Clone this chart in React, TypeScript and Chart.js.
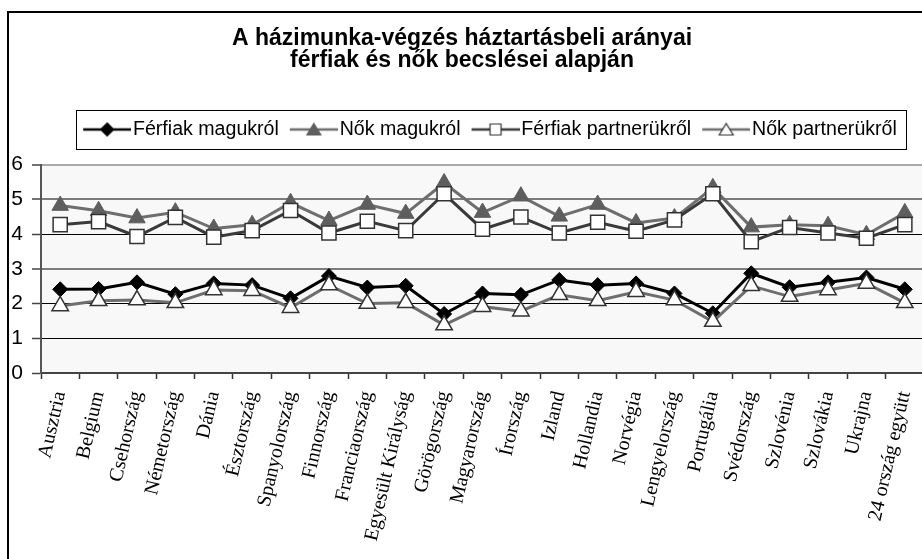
import React, { useEffect, useRef } from 'react';
import { Chart, registerables } from 'chart.js';

Chart.register(...registerables);

const titleLines = ['A házimunka-végzés háztartásbeli arányai', 'férfiak és nők becslései alapján'];

const categories = [
  'Ausztria', 'Belgium', 'Csehország', 'Németország', 'Dánia', 'Észtország', 'Spanyolország',
  'Finnország', 'Franciaország', 'Egyesült Királyság', 'Görögország', 'Magyarország', 'Írország',
  'Izland', 'Hollandia', 'Norvégia', 'Lengyelország', 'Portugália', 'Svédország', 'Szlovénia',
  'Szlovákia', 'Ukrajna', '24 ország együtt',
];

const seriesNames = ['Férfiak magukról', 'Nők magukról', 'Férfiak partnerükről', 'Nők partnerükről'];

const ferfiakMagukrol = [2.41, 2.42, 2.61, 2.27, 2.58, 2.53, 2.15, 2.79, 2.46, 2.51, 1.70, 2.29, 2.25, 2.68, 2.53, 2.58, 2.29, 1.72, 2.87, 2.47, 2.61, 2.75, 2.41];
const nokMagukrol = [4.82, 4.67, 4.46, 4.63, 4.16, 4.27, 4.90, 4.39, 4.85, 4.59, 5.47, 4.62, 5.09, 4.51, 4.85, 4.32, 4.46, 5.33, 4.20, 4.27, 4.24, 3.98, 4.61];
const ferfiakPartnerukrol = [4.27, 4.36, 3.93, 4.48, 3.91, 4.10, 4.68, 4.03, 4.37, 4.10, 5.16, 4.14, 4.49, 4.03, 4.34, 4.08, 4.41, 5.16, 3.78, 4.19, 4.03, 3.88, 4.27];
const nokPartnerukrol = [1.93, 2.08, 2.10, 2.02, 2.39, 2.37, 1.88, 2.53, 2.00, 2.02, 1.38, 1.91, 1.78, 2.25, 2.08, 2.34, 2.10, 1.48, 2.51, 2.20, 2.39, 2.58, 2.02];

const yMin = 0;
const yMax = 6;
const yStep = 1;

const W = 938;
const H = 580;
const SANS = '"Liberation Sans", Arial, sans-serif';
const SERIF = '"Liberation Serif", "Times New Roman", serif';

const gridColors: Record<number, string> = { 6: '#a8a8a8', 5: '#7c7c7c', 4: '#000000', 3: '#7c7c7c', 2: '#000000', 1: '#000000', 0: '#444444' };
const gridWidths: Record<number, number> = { 6: 2, 5: 2, 4: 1, 3: 2, 2: 1, 1: 1, 0: 1 };

function makeIcon(lineColor: string, kind: string, fill: string, stroke: string) {
  const c = document.createElement('canvas');
  c.width = 56;
  c.height = 20;
  const g = c.getContext('2d')!;
  g.strokeStyle = lineColor;
  g.lineWidth = 2.5;
  g.beginPath();
  g.moveTo(8, 10);
  g.lineTo(56, 10);
  g.stroke();
  g.fillStyle = fill;
  g.strokeStyle = stroke;
  g.lineWidth = 1.2;
  g.beginPath();
  if (kind === 'diamond') {
    g.moveTo(32, 3.5); g.lineTo(38.5, 10); g.lineTo(32, 16.5); g.lineTo(25.5, 10); g.closePath();
  } else if (kind === 'triangle') {
    g.moveTo(32, 4); g.lineTo(39, 15.5); g.lineTo(25, 15.5); g.closePath();
  } else {
    g.rect(26.5, 4.5, 11, 11);
  }
  g.fill();
  g.stroke();
  return c;
}

const decoPlugin = {
  id: 'deco',
  afterLayout(chart: any) {
    const lg = chart.legend;
    if (!lg || !lg.lineWidths || !lg.legendHitBoxes || !lg.legendHitBoxes.length) return;
    const p = 11;
    const x0 = (lg.left + p + lg.right - lg.lineWidths[0]) / 2;
    const span = lg.lineWidths[0] - p;
    const dx = 490 - (x0 + span / 2);
    const hh = lg.legendHitBoxes[0].height;
    const dy = 129.5 - (lg.top + p + hh / 2);
    lg.left += dx; lg.right += dx;
    lg.top += dy; lg.bottom += dy;
  },
  beforeDraw(chart: any) {
    const { ctx, chartArea: a } = chart;
    ctx.save();
    ctx.fillStyle = '#ffffff';
    ctx.fillRect(0, 0, chart.width, chart.height);
    ctx.fillStyle = '#f8f8f8';
    ctx.fillRect(a.left, a.top, a.right - a.left, a.bottom - a.top);
    ctx.restore();
  },
  afterDraw(chart: any) {
    const { ctx } = chart;
    ctx.save();
    ctx.strokeStyle = '#000';
    ctx.lineWidth = 2;
    ctx.strokeRect(8, 12, chart.width + 20, chart.height + 20);
    const hb = chart.legend && chart.legend.legendHitBoxes;
    if (hb && hb.length) {
      const first = hb[0];
      const last = hb[hb.length - 1];
      const cy = first.top + first.height / 2;
      const l = Math.round(first.left - 7) + 0.5;
      const r = Math.round(last.left + last.width + 9) + 0.5;
      const t = Math.round(cy - 19.5) + 0.5;
      ctx.lineWidth = 1;
      ctx.strokeRect(l, t, r - l, 39);
    }
    ctx.restore();
  },
};

export default function App() {
  const ref = useRef<HTMLCanvasElement | null>(null);

  useEffect(() => {
    if (!ref.current) return;
    const icons = [
      makeIcon('#000000', 'diamond', '#000000', '#000000'),
      makeIcon('#6e6e6e', 'triangle', '#5e5e5e', '#5e5e5e'),
      makeIcon('#3a3a3a', 'square', '#ffffff', '#333333'),
      makeIcon('#6e6e6e', 'triangle', '#ffffff', '#333333'),
    ];
    const chart = new Chart(ref.current, {
      type: 'line',
      data: {
        labels: categories,
        datasets: [
          {
            label: seriesNames[0], data: ferfiakMagukrol, order: 4,
            borderColor: '#000000', backgroundColor: '#000000', borderWidth: 3,
            pointStyle: 'rectRot', pointRadius: 7.5, pointBackgroundColor: '#000000', pointBorderColor: '#000000', pointBorderWidth: 1,
          },
          {
            label: seriesNames[1], data: nokMagukrol, order: 3,
            borderColor: '#6e6e6e', backgroundColor: '#5e5e5e', borderWidth: 3,
            pointStyle: 'triangle', pointRadius: 9.5, pointBackgroundColor: '#5e5e5e', pointBorderColor: '#5e5e5e', pointBorderWidth: 1,
          },
          {
            label: seriesNames[2], data: ferfiakPartnerukrol, order: 2,
            borderColor: '#3a3a3a', backgroundColor: '#ffffff', borderWidth: 3,
            pointStyle: 'rect', pointRadius: 10, pointBackgroundColor: '#ffffff', pointBorderColor: '#333333', pointBorderWidth: 1.5,
          },
          {
            label: seriesNames[3], data: nokPartnerukrol, order: 1,
            borderColor: '#6e6e6e', backgroundColor: '#ffffff', borderWidth: 3,
            pointStyle: 'triangle', pointRadius: 9.5, pointBackgroundColor: '#ffffff', pointBorderColor: '#333333', pointBorderWidth: 1.5,
          },
        ],
      },
      options: {
        responsive: false,
        animation: false,
        devicePixelRatio: 1,
        layout: { padding: { left: 0, right: 14, top: 0, bottom: 0 } },
        plugins: {
          tooltip: { enabled: false },
          title: {
            display: true,
            text: titleLines,
            color: '#000',
            font: { family: SANS, size: 23, weight: 'bold', lineHeight: '22px' },
            padding: { top: 28, bottom: 52 },
          },
          legend: {
            display: true,
            position: 'top',
            labels: {
              usePointStyle: true,
              pointStyleWidth: 40,
              padding: 11,
              color: '#000',
              font: { family: SANS, size: 19.6 },
              generateLabels: (c: any) => {
                const items = (Chart.defaults.plugins.legend.labels as any).generateLabels(c);
                items.sort((a: any, b: any) => a.datasetIndex - b.datasetIndex);
                items.forEach((it: any) => {
                  it.pointStyle = icons[it.datasetIndex];
                  it.fontColor = '#000';
                });
                return items;
              },
            },
          },
        },
        scales: {
          x: {
            type: 'category',
            offset: true,
            grid: {
              display: true, drawOnChartArea: false, drawTicks: true, tickLength: 6, offset: true,
              color: '#333', tickColor: '#333', tickWidth: 1.5,
            },
            border: { display: true, color: '#444', width: 2 },
            ticks: {
              autoSkip: false, minRotation: 77, maxRotation: 77, padding: 10, color: '#000',
              font: { family: SERIF, size: 20 },
            },
            afterFit: (s: any) => { s.height = H - 373; s.paddingLeft = 0; s.paddingRight = 0; },
          },
          y: {
            min: yMin,
            max: yMax,
            ticks: { stepSize: yStep, padding: 9, color: '#000', font: { family: SANS, size: 21 } },
            grid: {
              color: (ctx: any) => (ctx.tick ? gridColors[ctx.tick.value] || '#000' : '#000'),
              lineWidth: (ctx: any) => (ctx.tick ? gridWidths[ctx.tick.value] || 1 : 1),
              tickLength: 9, tickColor: '#444', tickWidth: 1.5,
            },
            border: { display: true, color: '#555', width: 2 },
            afterFit: (s: any) => { s.width = 41; s.paddingTop = 0; s.paddingBottom = 0; },
          },
        },
      },
      plugins: [decoPlugin],
    } as any);
    return () => chart.destroy();
  }, []);

  return (
    <div style={{ position: 'fixed', left: 0, top: 0, width: 922, height: 559, overflow: 'hidden', background: '#fff' }}>
      <canvas ref={ref} width={W} height={H} style={{ display: 'block', width: W, height: H }} />
    </div>
  );
}
